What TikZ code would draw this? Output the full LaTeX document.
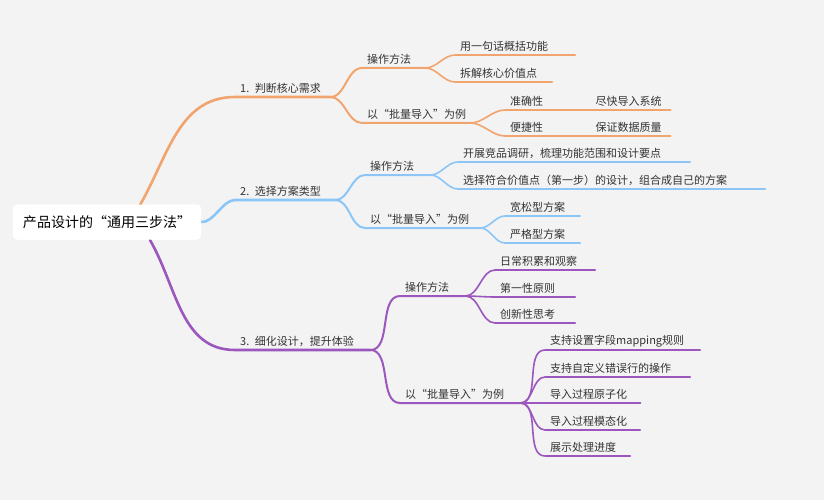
\documentclass[tikz,border=0pt]{standalone}
\usepackage{fontspec}
\newfontfamily\cjk{Noto Sans CJK SC}
\usetikzlibrary{positioning}
\definecolor{bggray}{HTML}{F3F3F3}
\definecolor{textgray}{HTML}{333333}
\definecolor{orangeb}{HTML}{F2A46E}
\definecolor{blueb}{HTML}{8CC6F7}
\definecolor{purpleb}{HTML}{9C57BE}

\begin{document}
\begin{tikzpicture}[
        x=1pt, y=-1pt,
        topic/.style = {
                anchor=south west,
                inner xsep=5pt,
                inner ysep=3pt,
                align=left,
                text=textgray,
                font=\cjk\fontsize{11}{13}\selectfont,
            },
        rootbox/.style = {
                rectangle,
                rounded corners=4pt,
                fill=white,
                text=black,
                inner xsep=10pt,
                minimum height=35pt,
                font=\cjk\fontsize{14}{16}\selectfont,
            },
        br/.style = {line width=2.6pt, line cap=round},
        sub/.style = {line width=2pt, line cap=round},
        leaf/.style = {line width=1.6pt, line cap=round},
        link/.style = {out=0, in=180, looseness=0.9},
    ]
    \fill[bggray] (0,0) rectangle (824,500);
    \node[rootbox] (root) at (107,222) {产品设计的“通用三步法”};
    \coordinate (r1) at (140,205);
    \coordinate (r3) at (150,240);

    % branch 1
    \node[topic, text width=85pt] (b1) at (235,97) {1. 判断核心需求};
    \node[topic, text width=53pt] (b1a) at (362,68) {操作方法};
    \node[topic, text width=98pt] (b1b) at (362,123) {以“批量导入”为例};
    \node[topic, text width=110pt] (b1a1) at (455,55) {用一句话概括功能};
    \node[topic, text width=87pt] (b1a2) at (455,82) {拆解核心价值点};
    \node[topic, text width=75pt] (b1b1) at (505,110) {准确性};
    \node[topic, text width=70pt] (b1b1x) at (b1b1.south east) {尽快导入系统};
    \node[topic, text width=75pt] (b1b2) at (505,136) {便捷性};
    \node[topic, text width=70pt] (b1b2x) at (b1b2.south east) {保证数据质量};
    \begin{scope}[orangeb]
        \draw[br] (r1) to[out=60, in=180, looseness=1] (b1.south west) -- (b1.south east);
        \draw[sub] (b1.south east) to[link] (b1a.south west) -- (b1a.south east);
        \draw[sub] (b1.south east) to[link] (b1b.south west) -- (b1b.south east);
        \foreach \n in {b1a1,b1a2}
        \draw[leaf] (b1a.south east) to[link] (\n.south west) -- (\n.south east);
        \foreach \n in {b1b1,b1b2}
        \draw[leaf] (b1b.south east) to[link] (\n.south west) -- (\n.south east) -- (\n x.south east);
    \end{scope}

    % branch 2
    \node[topic, text width=90pt] (b2) at (235,200) {2. 选择方案类型};
    \node[topic, text width=55pt] (b2a) at (365,175) {操作方法};
    \node[topic, text width=105pt] (b2b) at (365,228) {以“批量导入”为例};
    \node[topic, text width=222pt] (b2a1) at (458,162) {开展竞品调研，梳理功能范围和设计要点};
    \node[topic, text width=297pt] (b2a2) at (458,189) {选择符合价值点（第一步）的设计，组合成自己的方案};
    \node[topic, text width=65pt] (b2b1) at (505,216) {宽松型方案};
    \node[topic, text width=65pt] (b2b2) at (505,243) {严格型方案};
    \begin{scope}[blueb]
        \draw[br] (root.east) to[out=-5, in=180, looseness=0.8] (b2.south west) -- (b2.south east);
        \draw[sub] (b2.south east) to[link] (b2a.south west) -- (b2a.south east);
        \draw[sub] (b2.south east) to[link] (b2b.south west) -- (b2b.south east);
        \foreach \n in {b2a1,b2a2}
        \draw[leaf] (b2a.south east) to[link] (\n.south west) -- (\n.south east);
        \foreach \n in {b2b1,b2b2}
        \draw[leaf] (b2b.south east) to[link] (\n.south west) -- (\n.south east);
    \end{scope}

    % branch 3
    \node[topic, text width=125pt] (b3) at (235,350) {3. 细化设计，提升体验};
    \node[topic, text width=55pt] (b3a) at (400,296) {操作方法};
    \node[topic, text width=110pt] (b3b) at (400,403) {以“批量导入”为例};
    \node[topic, text width=90pt] (b3a1) at (495,270) {日常积累和观察};
    \node[topic, text width=70pt] (b3a2) at (495,297) {第一性原则};
    \node[topic, text width=70pt] (b3a3) at (495,323) {创新性思考};
    \node[topic, text width=145pt] (b3b1) at (545,350) {支持设置字段mapping规则};
    \node[topic, text width=135pt] (b3b2) at (545,377) {支持自定义错误行的操作};
    \node[topic, text width=85pt] (b3b3) at (545,403) {导入过程原子化};
    \node[topic, text width=85pt] (b3b4) at (545,430) {导入过程模态化};
    \node[topic, text width=75pt] (b3b5) at (545,456) {展示处理进度};
    \begin{scope}[purpleb]
        \draw[br] (r3) to[out=-60, in=180, looseness=1] (b3.south west) -- (b3.south east);
        \draw[sub] (b3.south east) to[link] (b3a.south west) -- (b3a.south east);
        \draw[sub] (b3.south east) to[link] (b3b.south west) -- (b3b.south east);
        \foreach \n in {b3a1,b3a2,b3a3}
        \draw[leaf] (b3a.south east) to[link] (\n.south west) -- (\n.south east);
        \foreach \n in {b3b1,b3b2,b3b3,b3b4,b3b5}
        \draw[leaf] (b3b.south east) to[link] (\n.south west) -- (\n.south east);
    \end{scope}
    \node[rootbox] at (root) {产品设计的“通用三步法”};
\end{tikzpicture}
\end{document}
